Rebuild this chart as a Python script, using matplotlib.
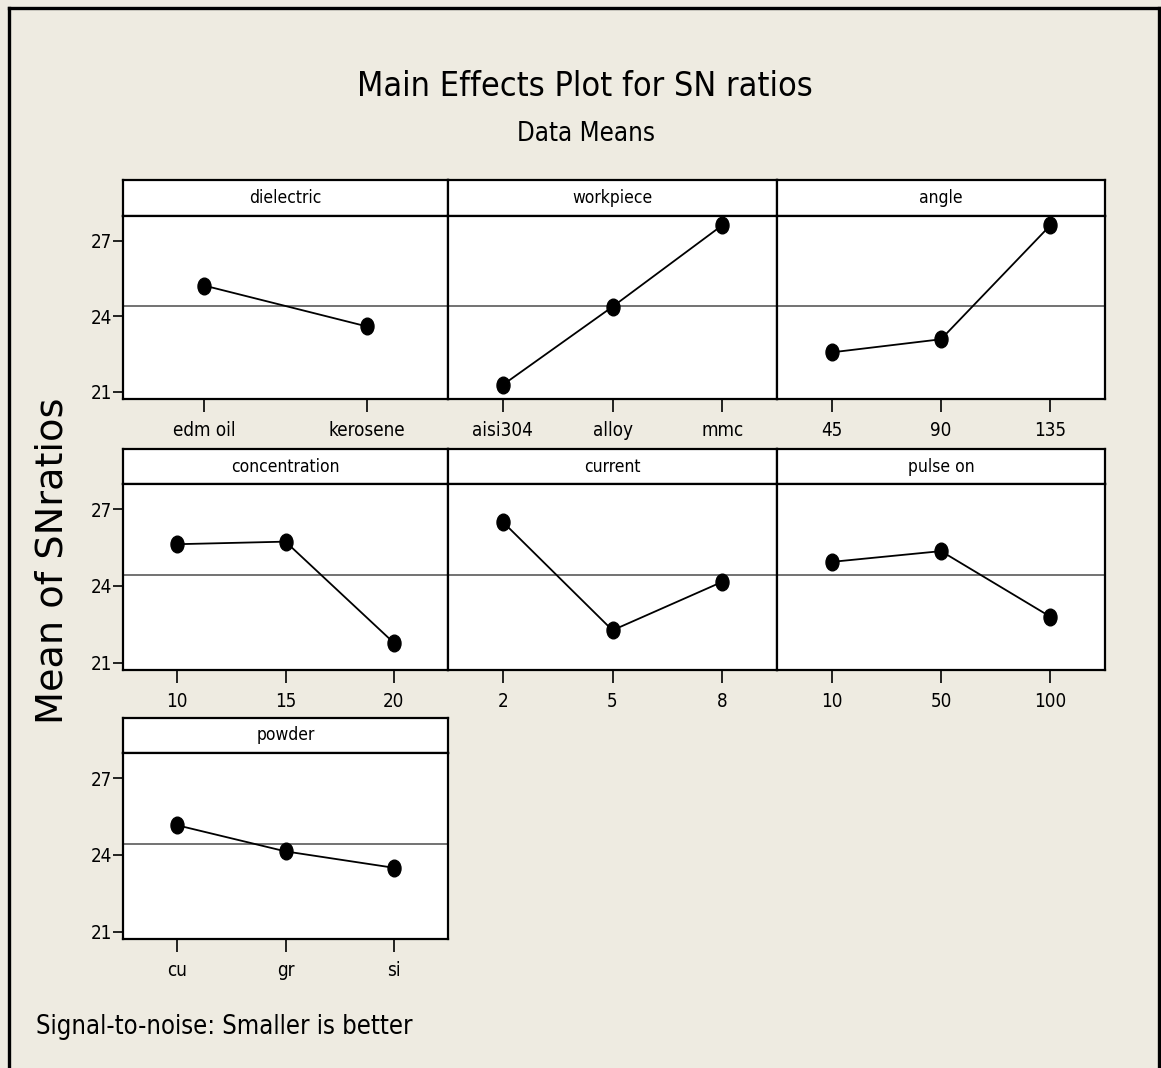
import matplotlib
matplotlib.use("Agg")
import matplotlib.pyplot as plt
from matplotlib.path import Path
from matplotlib.lines import Line2D

# ---- data: mean S/N ratio for each factor level ----
factors = ["dielectric", "workpiece", "angle",
           "concentration", "current", "pulse on", "powder"]
dielectric_levels = ["edm oil", "kerosene"]
dielectric_sn = [25.22, 23.60]
workpiece_levels = ["aisi304", "alloy", "mmc"]
workpiece_sn = [21.28, 24.38, 27.61]
angle_levels = ["45", "90", "135"]
angle_sn = [22.57, 23.09, 27.61]
concentration_levels = ["10", "15", "20"]
concentration_sn = [25.63, 25.73, 21.78]
current_levels = ["2", "5", "8"]
current_sn = [26.50, 22.27, 24.16]
pulse_on_levels = ["10", "50", "100"]
pulse_on_sn = [24.94, 25.36, 22.80]
powder_levels = ["cu", "gr", "si"]
powder_sn = [25.16, 24.14, 23.50]
overall_mean = 24.42
y_ticks = [21, 24, 27]

panels = [
    (dielectric_levels, dielectric_sn),
    (workpiece_levels, workpiece_sn),
    (angle_levels, angle_sn),
    (concentration_levels, concentration_sn),
    (current_levels, current_sn),
    (pulse_on_levels, pulse_on_sn),
    (powder_levels, powder_sn),
]

W, H = 1161, 1068
BG = "#EEEBE1"
COND = dict(family="DejaVu Sans", fontstretch="condensed")

fig = plt.figure(figsize=(W / 100, H / 100), dpi=100, facecolor=BG)

def px_axes(left, top, right, bottom):
    return fig.add_axes([left / W, 1 - bottom / H, (right - left) / W, (bottom - top) / H])

# frame around the whole graph
for xs, ys in [([8.5, 8.5], [7.5, H + 5]), ([8.5, 1158.5], [7.5, 7.5]),
               ([1158.5, 1158.5], [7.5, H + 5])]:
    fig.add_artist(Line2D([x / W for x in xs], [1 - y / H for y in ys],
                          color="black", lw=2.4, transform=fig.transFigure))

col_edges = [(123, 448), (448, 777), (777, 1105)]
row_edges = [(180, 216, 399), (449, 484, 670), (718, 753, 939)]

circ = Path.unit_circle()
dot = Path(circ.vertices * [0.78, 1.0], circ.codes)

for i, (name, (levels, values)) in enumerate(zip(factors, panels)):
    r, c = divmod(i, 3)
    left, right = col_edges[c]
    s_top, p_top, p_bot = row_edges[r]

    # factor name strip
    sax = px_axes(left, s_top, right, p_top)
    sax.set_facecolor("white")
    sax.set_xticks([])
    sax.set_yticks([])
    for sp in sax.spines.values():
        sp.set_linewidth(1.6)
    sax.text(0.5, 0.5, name, ha="center", va="center", fontsize=12.5,
             transform=sax.transAxes, **COND)

    ax = px_axes(left, p_top, right, p_bot)
    ax.set_facecolor("white")
    x = list(range(1, len(levels) + 1))
    ax.axhline(overall_mean, color="#5a5a5a", lw=1.2, zorder=1)
    ax.plot(x, values, color="black", lw=1.3, marker=dot, markersize=12,
            markerfacecolor="black", markeredgecolor="black", zorder=3)
    ax.set_xlim(0.5, len(levels) + 0.5)
    ax.set_ylim(20.72, 27.98)
    ax.set_xticks(x)
    ax.set_xticklabels(levels, fontsize=13.5, **COND)
    ax.tick_params(axis="x", length=9, width=1.2, pad=7, color="black")
    if c == 0:
        ax.set_yticks(y_ticks)
        ax.set_yticklabels([str(t) for t in y_ticks], fontsize=13.5, **COND)
        ax.tick_params(axis="y", length=7, width=1.2, pad=1)
    else:
        ax.set_yticks([])
    for sp in ax.spines.values():
        sp.set_linewidth(1.6)

fig.text(585 / W, 1 - 86 / H, "Main Effects Plot for SN ratios", ha="center",
         va="center", fontsize=24.5, **COND)
fig.text(586 / W, 1 - 134 / H, "Data Means", ha="center", va="center",
         fontsize=18.5, **COND)
fig.text(53 / W, 1 - 561 / H, "Mean of SNratios", ha="center", va="center",
         rotation=90, fontsize=27.5, family="DejaVu Sans")
fig.text(36 / W, 1 - 1027 / H, "Signal-to-noise: Smaller is better", ha="left",
         va="center", fontsize=18.4, **COND)

fig.savefig("out.png", dpi=100, facecolor=BG)
